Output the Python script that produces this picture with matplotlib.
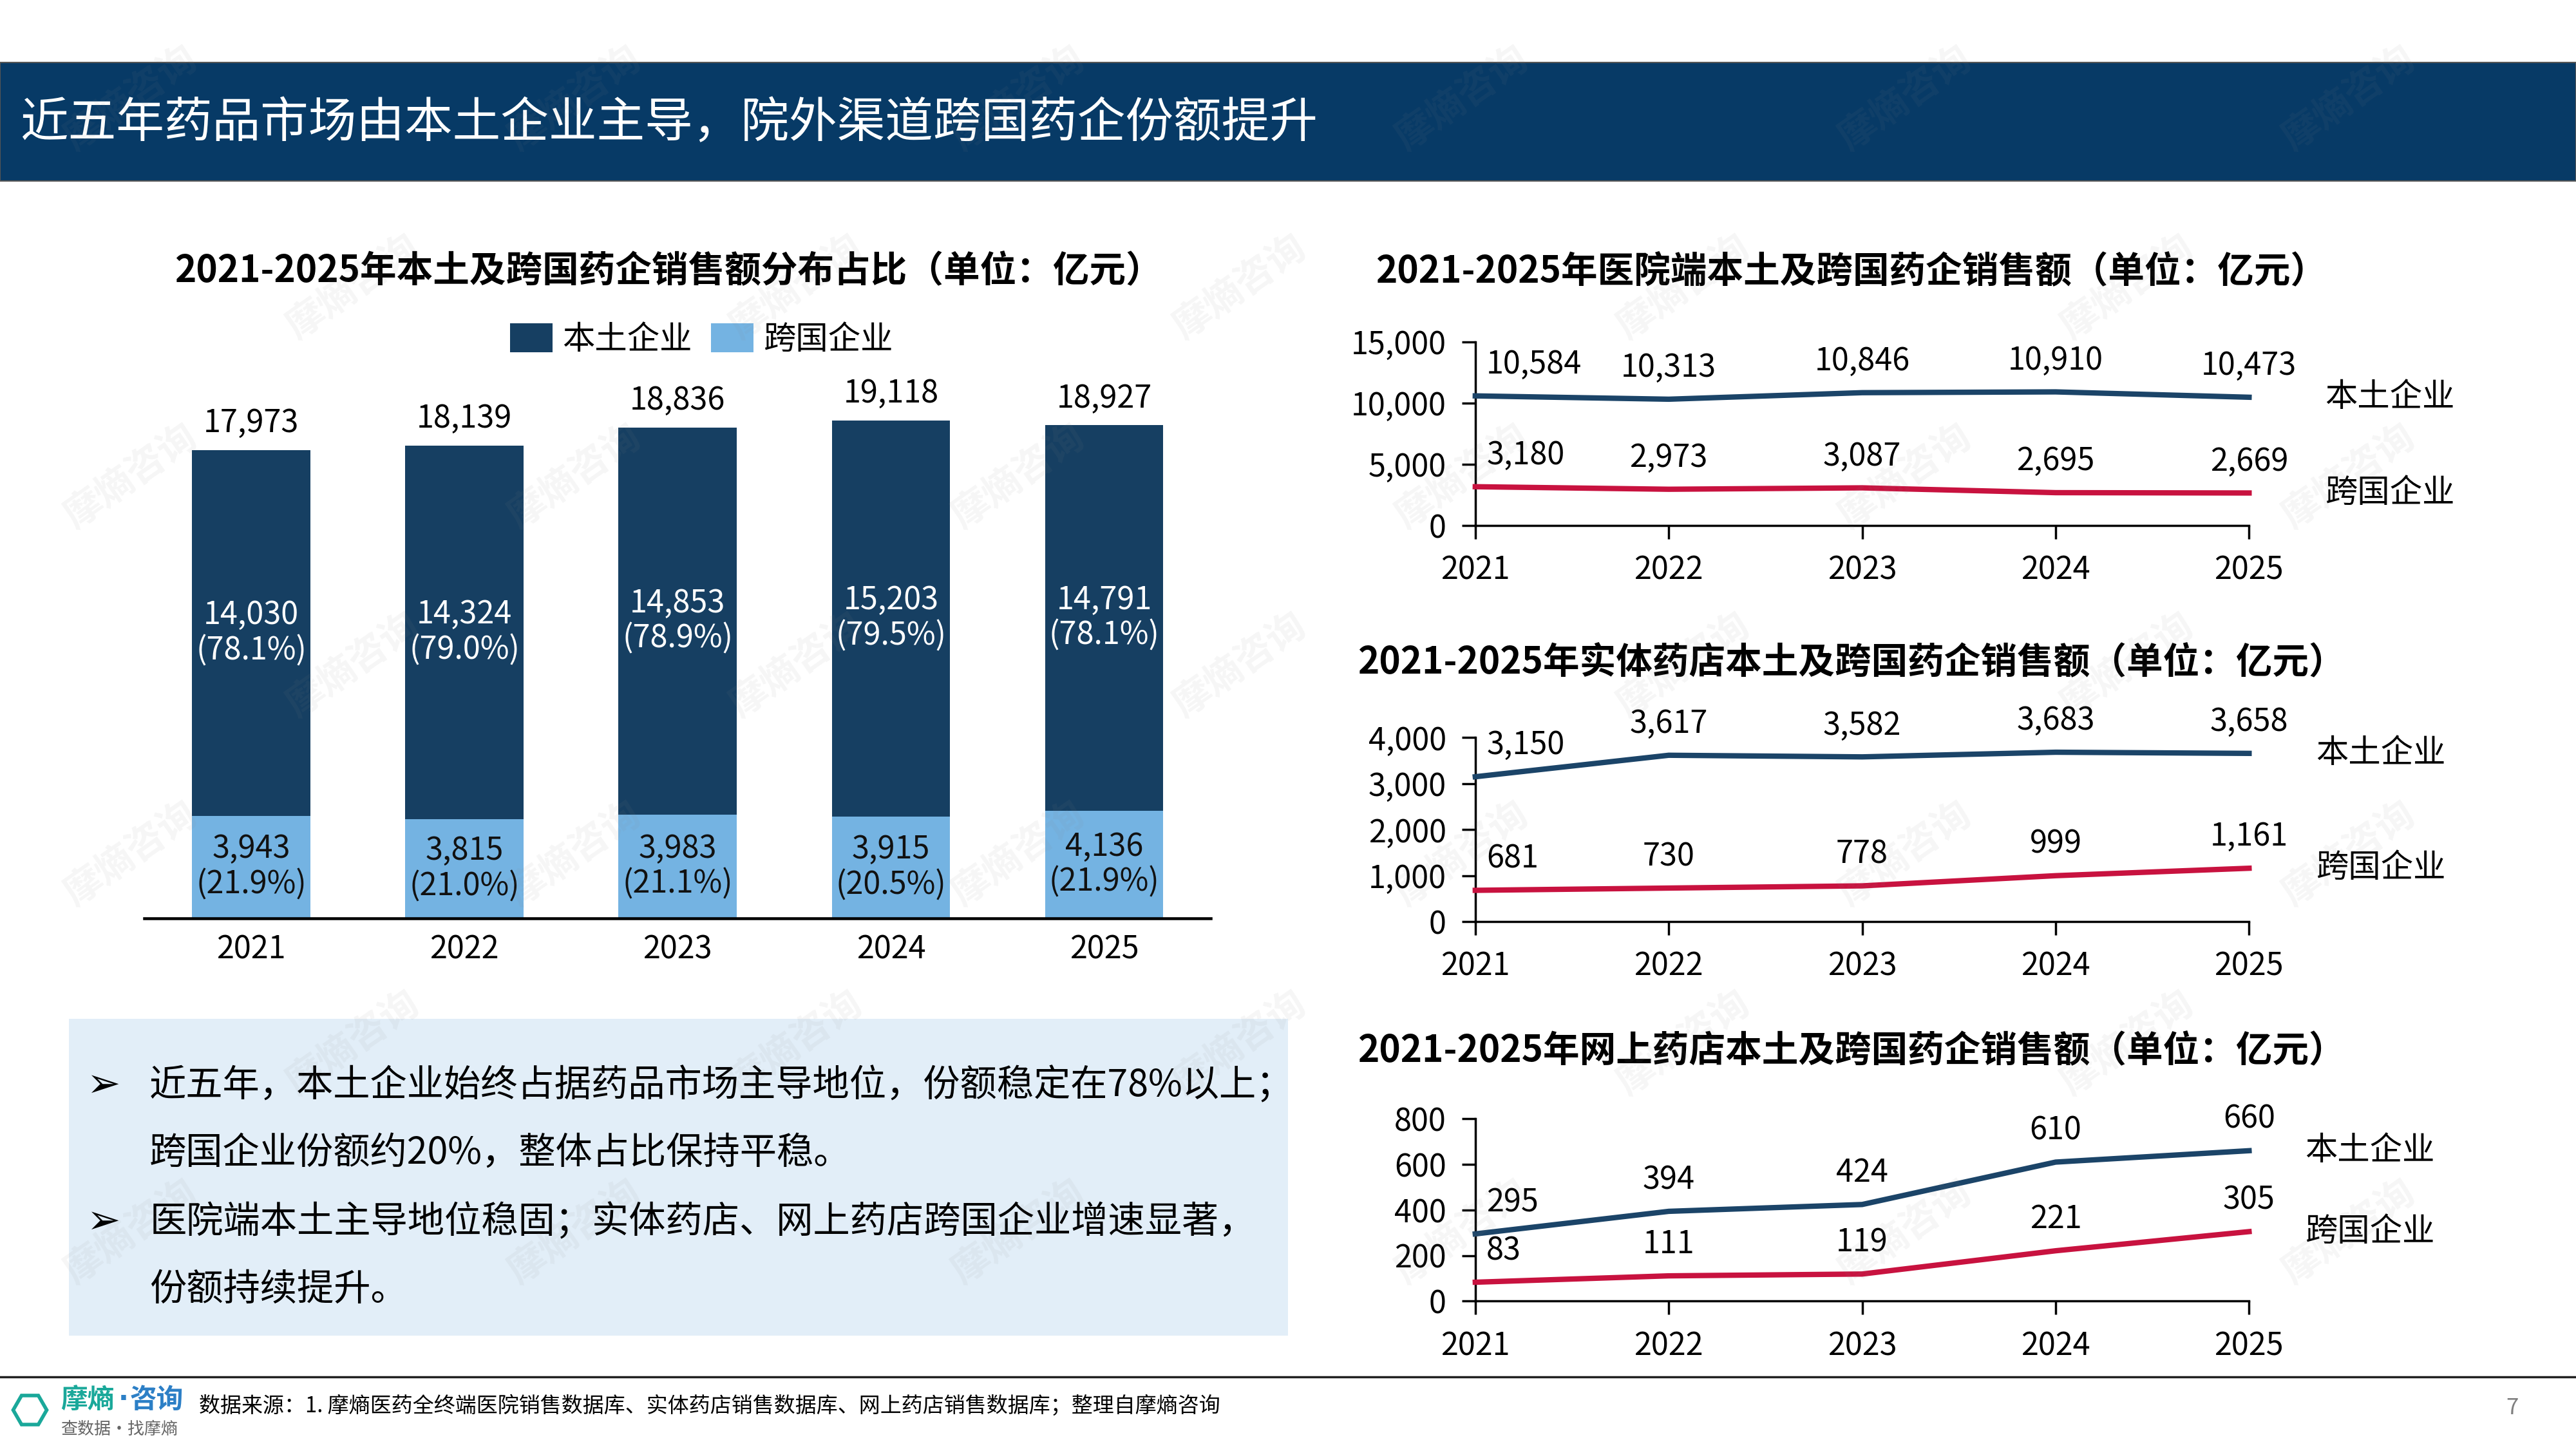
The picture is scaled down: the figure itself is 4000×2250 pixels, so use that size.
import matplotlib
matplotlib.use("Agg")
import matplotlib.pyplot as plt
from matplotlib.patches import Patch, Rectangle
from matplotlib.lines import Line2D
import numpy as np

plt.rcParams['font.family'] = ['Noto Sans CJK SC', 'DejaVu Sans']

# ---- data ----
years = ['2021', '2022', '2023', '2024', '2025']
total_sales = [17973, 18139, 18836, 19118, 18927]
local_sales = [14030, 14324, 14853, 15203, 14791]
mnc_sales = [3943, 3815, 3983, 3915, 4136]
local_share = [78.1, 79.0, 78.9, 79.5, 78.1]
mnc_share = [21.9, 21.0, 21.1, 20.5, 21.9]

hospital_local = [10584, 10313, 10846, 10910, 10473]
hospital_mnc = [3180, 2973, 3087, 2695, 2669]
retail_local = [3150, 3617, 3582, 3683, 3658]
retail_mnc = [681, 730, 778, 999, 1161]
online_local = [295, 394, 424, 610, 660]
online_mnc = [83, 111, 119, 221, 305]

series_names = ['本土企业', '跨国企业']

page_title = '近五年药品市场由本土企业主导，院外渠道跨国药企份额提升'
bar_title = '2021-2025年本土及跨国药企销售额分布占比（单位：亿元）'
line_titles = ['2021-2025年医院端本土及跨国药企销售额（单位：亿元）',
               '2021-2025年实体药店本土及跨国药企销售额（单位：亿元）',
               '2021-2025年网上药店本土及跨国药企销售额（单位：亿元）']
notes = [['近五年，本土企业始终占据药品市场主导地位，份额稳定在78%以上；',
          '跨国企业份额约20%，整体占比保持平稳。'],
         ['医院端本土主导地位稳固；实体药店、网上药店跨国企业增速显著，',
          '份额持续提升。']]
source_text = '数据来源：1. 摩熵医药全终端医院销售数据库、实体药店销售数据库、网上药店销售数据库；整理自摩熵咨询'

NAVY = '#073A66'
DARK = '#163F62'
LIGHT = '#74B3E2'
LINE_BLUE = '#1B4468'
LINE_RED = '#C8123F'


def fx(x):
    return x / 1568


def fy(y):
    return 1 - y / 882


fig = plt.figure(figsize=(16, 9), dpi=250)
fig.patch.set_facecolor('white')

# title bar
fig.add_artist(Rectangle((0, fy(110)), 1, fy(38) - fy(110), transform=fig.transFigure,
                         facecolor=NAVY, edgecolor='#555555', lw=0.6, zorder=1))
fig.text(fx(12), fy(75), page_title, color='white', fontsize=21.5, va='center', ha='left', zorder=2)

# ---- stacked bars ----
ax = fig.add_axes([fx(88), fy(559), fx(737) - fx(88), fy(226) - fy(559)])
ax.set_facecolor('none')
x = np.arange(len(years))
ax.bar(x, mnc_sales, width=0.555, color=LIGHT, zorder=2)
ax.bar(x, local_sales, width=0.555, bottom=mnc_sales, color=DARK, zorder=2)
ax.set_xlim(-0.5, 4.5)
ax.set_ylim(0, 21000)
for i in range(len(years)):
    ax.text(x[i], mnc_sales[i] + local_sales[i] / 2, f'{local_sales[i]:,}\n({local_share[i]:.1f}%)',
            ha='center', va='center', color='white', fontsize=14, linespacing=1.15)
    ax.text(x[i], mnc_sales[i] / 2, f'{mnc_sales[i]:,}\n({mnc_share[i]:.1f}%)',
            ha='center', va='center', color='#111111', fontsize=14, linespacing=1.15)
    ax.annotate(f'{total_sales[i]:,}', (x[i], total_sales[i]), xytext=(0, 12),
                textcoords='offset points', ha='center', va='center', fontsize=14)
for s in ['top', 'right', 'left']:
    ax.spines[s].set_visible(False)
ax.spines['bottom'].set_linewidth(1.3)
ax.set_yticks([])
ax.set_xticks(x)
ax.set_xticklabels(years, fontsize=14)
ax.tick_params(axis='x', length=0, pad=7)

fig.text(fx(407), fy(165), bar_title, fontsize=16.3, fontweight='bold', ha='center', va='center')
fig.legend(handles=[Patch(facecolor=DARK), Patch(facecolor=LIGHT)], labels=series_names,
           loc='center', bbox_to_anchor=(fx(427), fy(207)), ncol=2, frameon=False,
           fontsize=14.5, handlelength=1.3, handleheight=1.0, handletextpad=0.3, columnspacing=0.6)

# ---- line charts ----
line_sets = [(hospital_local, hospital_mnc, 15000, 5000, 208, 320, 165, 34),
             (retail_local, retail_mnc, 4000, 1000, 449, 561, 403, 30),
             (online_local, online_mnc, 800, 200, 681, 792, 640, 25)]

for k, (loc_v, mnc_v, ymax, step, top, bottom, ttl_y, name_off) in enumerate(line_sets):
    la = fig.add_axes([fx(898), fy(bottom), fx(1369) - fx(898), fy(top) - fy(bottom)])
    la.set_facecolor('none')
    la.plot(x, loc_v, color=LINE_BLUE, lw=2.4, clip_on=False, zorder=3)
    la.plot(x, mnc_v, color=LINE_RED, lw=2.4, clip_on=False, zorder=3)
    la.set_xlim(0, 4)
    la.set_ylim(0, ymax)
    la.set_yticks(np.arange(0, ymax + 1, step))
    la.set_yticklabels([f'{v:,}' for v in np.arange(0, ymax + 1, step)], fontsize=14)
    la.set_xticks(x)
    la.set_xticklabels(years, fontsize=14)
    la.tick_params(axis='both', direction='out', length=6, width=1, pad=7)
    for s in ['top', 'right']:
        la.spines[s].set_visible(False)
    for s in ['left', 'bottom']:
        la.spines[s].set_linewidth(1)
    for vals in (loc_v, mnc_v):
        for i, v in enumerate(vals):
            if i == 0:
                la.annotate(f'{v:,}', (x[i], v), xytext=(5, 14), textcoords='offset points',
                            ha='left', va='center', fontsize=14)
            else:
                la.annotate(f'{v:,}', (x[i], v), xytext=(0, 14), textcoords='offset points',
                            ha='center', va='center', fontsize=14)
    la.annotate(series_names[0], (4, loc_v[-1]), xytext=(name_off, 0), textcoords='offset points',
                ha='left', va='center', fontsize=14.5, annotation_clip=False)
    la.annotate(series_names[1], (4, mnc_v[-1]), xytext=(name_off, 0), textcoords='offset points',
                ha='left', va='center', fontsize=14.5, annotation_clip=False)
    fig.text(fx(1127), fy(ttl_y), line_titles[k], fontsize=16.3, fontweight='bold', ha='center', va='center')

# ---- note box ----
fig.add_artist(Rectangle((fx(42), fy(813)), fx(784) - fx(42), fy(620) - fy(813),
                         transform=fig.transFigure, facecolor='#E2EEF8', edgecolor='none', zorder=0))
line_y = [[661, 702], [744, 785]]
for b, lines in enumerate(notes):
    fig.text(fx(63), fy(line_y[b][0]), '➢', family=['DejaVu Sans'], fontsize=18, ha='center', va='center')
    for j, t in enumerate(lines):
        fig.text(fx(91), fy(line_y[b][j]), t, fontsize=16.5, ha='left', va='center')

# ---- footer ----
fig.add_artist(Line2D([0, 1], [fy(838), fy(838)], transform=fig.transFigure, color='#222222', lw=1))
fig.add_artist(Line2D([fx(18)], [fy(858)], transform=fig.transFigure, marker='H', markersize=15,
                      markerfacecolor='none', markeredgecolor='#1AA89A', markeredgewidth=1.6))
fig.text(fx(37), fy(852), '摩熵', color='#1AA89A', fontsize=12, ha='left', va='center', fontweight='bold')
fig.text(fx(75), fy(852), '·', color='#2C7FC6', fontsize=12, ha='center', va='center',
         family=['DejaVu Sans'], fontweight='bold')
fig.text(fx(79), fy(852), '咨询', color='#2C7FC6', fontsize=12, ha='left', va='center', fontweight='bold')
fig.text(fx(37), fy(870), '查数据·找摩熵', color='#666666', fontsize=7.5, ha='left', va='center')
fig.text(fx(121), fy(856), source_text, fontsize=9.5, ha='left', va='center')
fig.text(fx(1529), fy(857), '7', fontsize=10, color='#7F7F7F', ha='center', va='center')

# ---- faint watermarks (kept inside the page) ----
for i, wy in enumerate(np.arange(60, 830, 115)):
    for wx in np.arange(80 + (i % 2) * 135, 1520, 270):
        fig.text(fx(wx), fy(wy), '摩熵咨询', rotation=35, fontsize=17, fontweight='bold',
                 color='#8A8A8A', alpha=0.08, ha='center', va='center', zorder=10)

fig.savefig('out.png', dpi=250)
